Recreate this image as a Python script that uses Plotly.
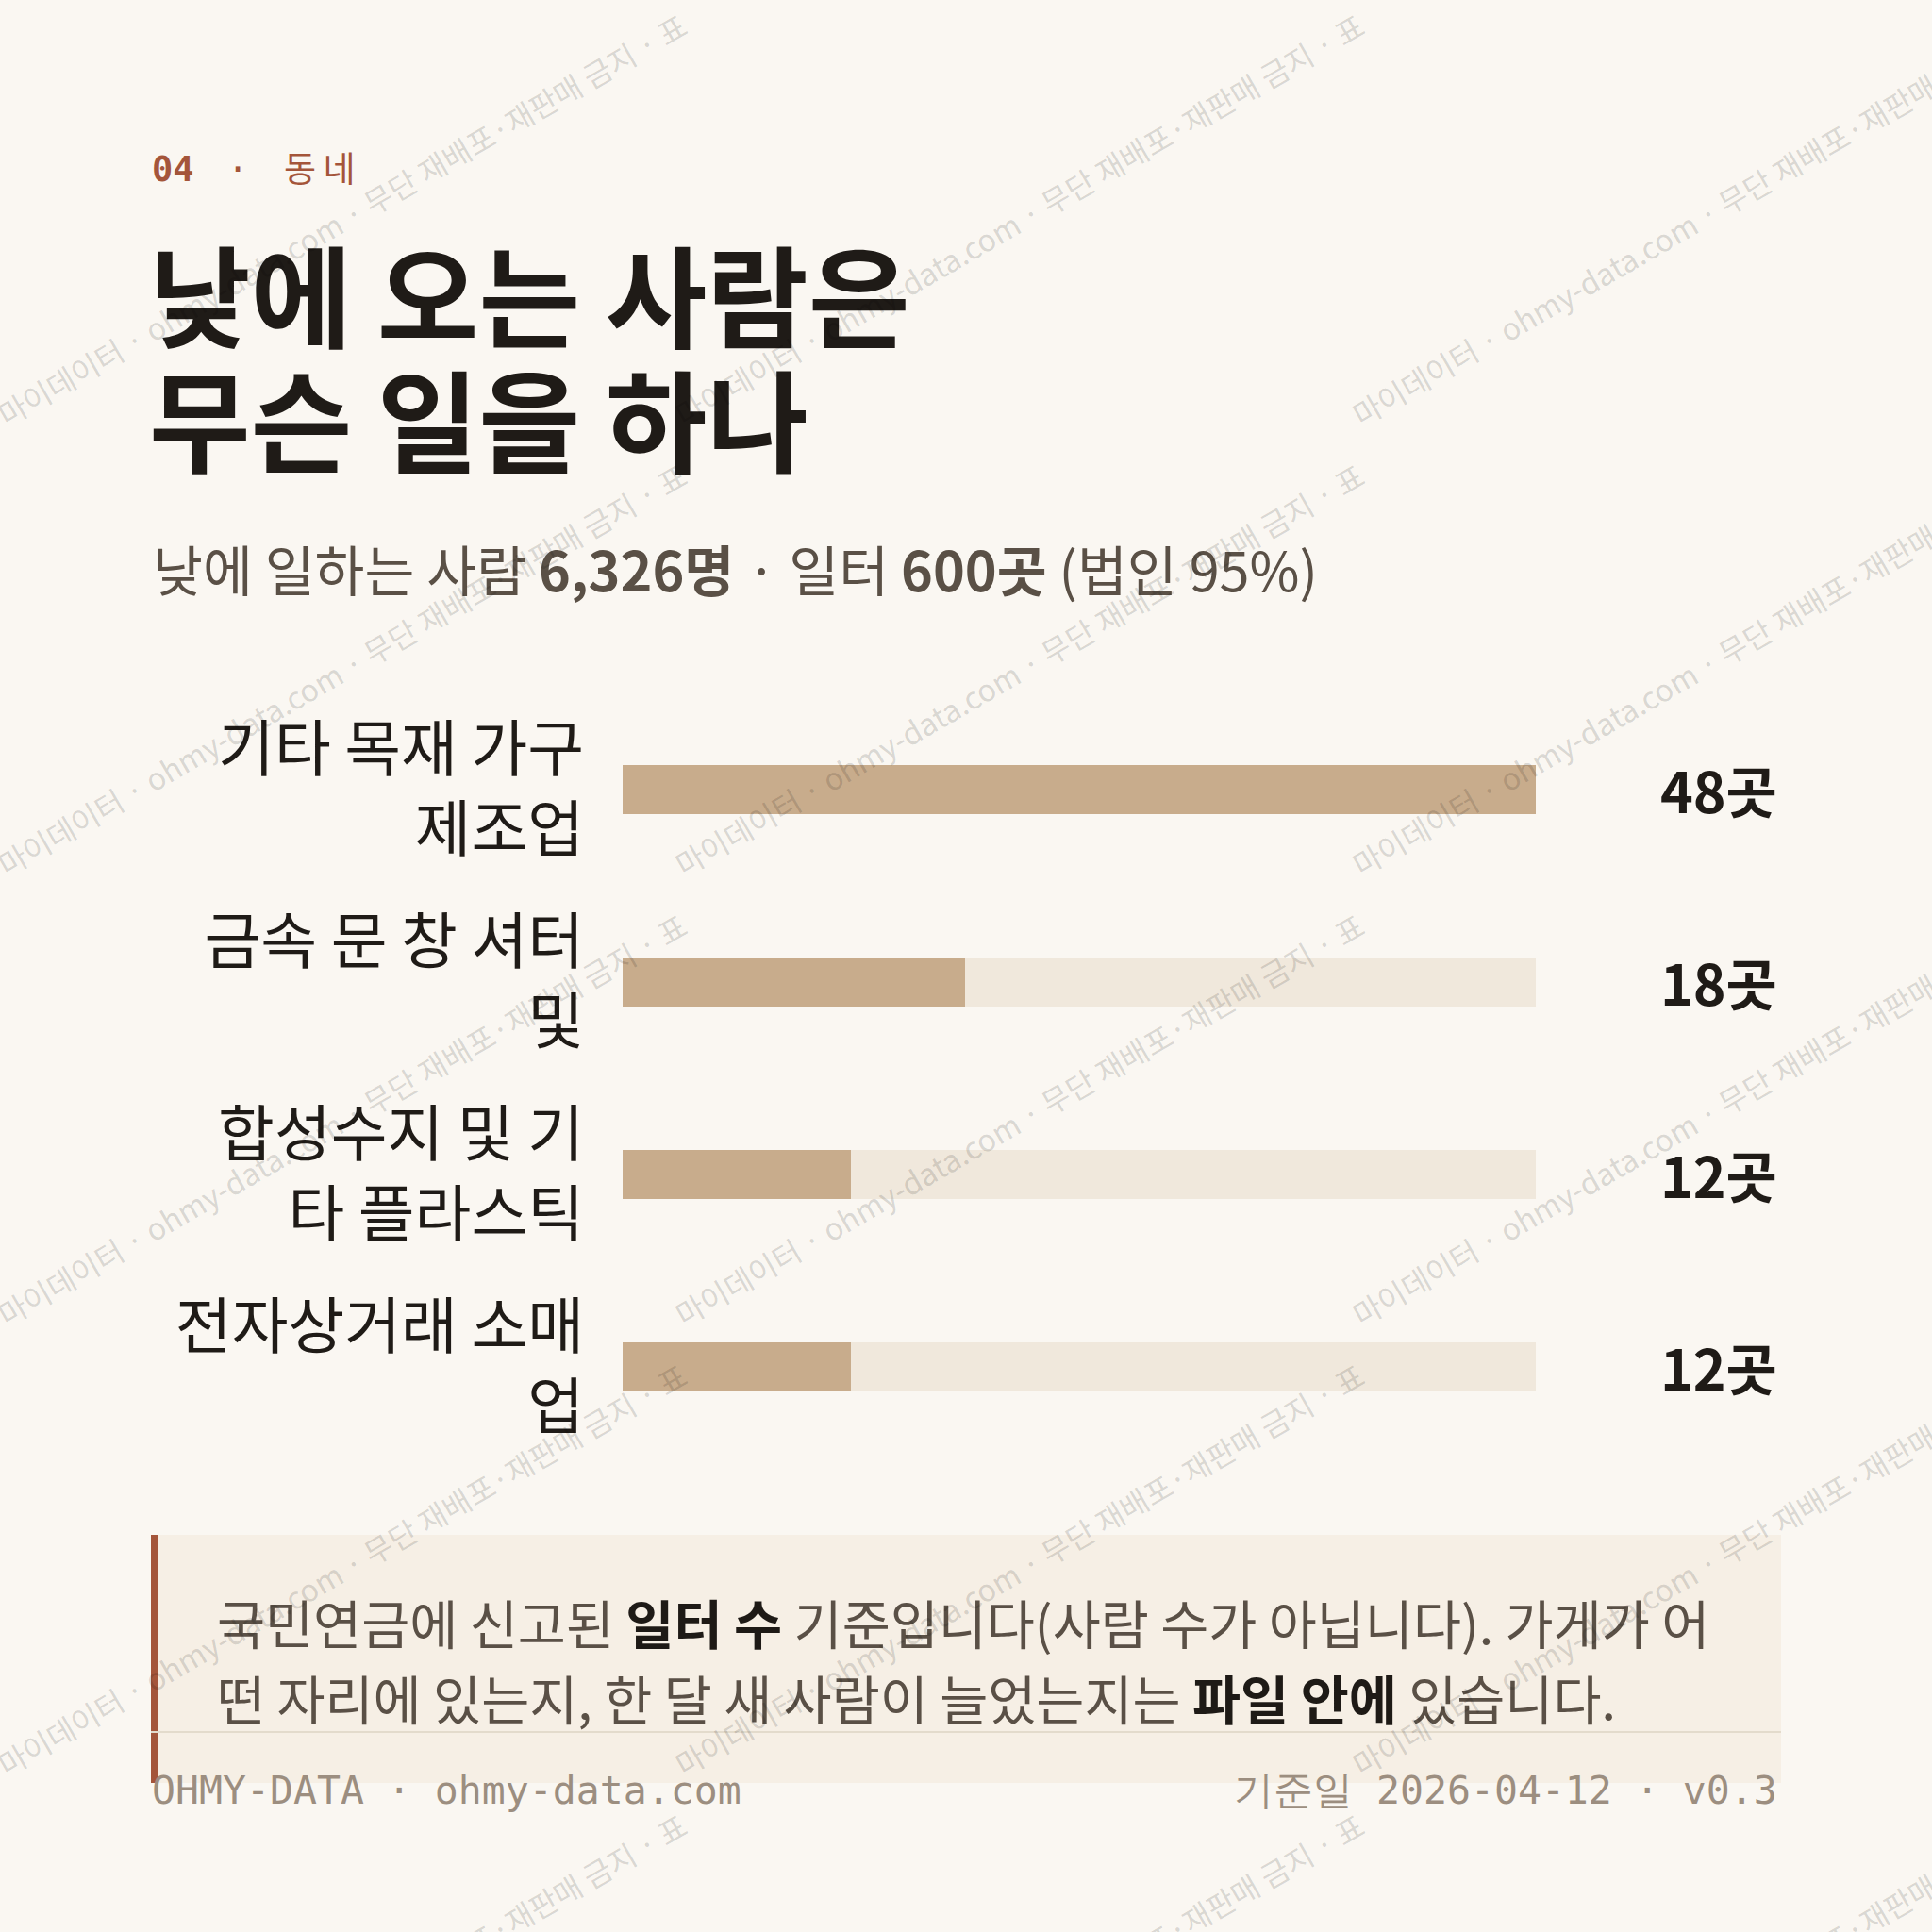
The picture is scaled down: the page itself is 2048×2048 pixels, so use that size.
import plotly.graph_objects as go

# ---------------- data ----------------
categories = ["기타 목재 가구 제조업", "금속 문 창 셔터 및", "합성수지 및 기타 플라스틱", "전자상거래 소매업"]
tick_labels = ["기타 목재 가구<br>제조업", "금속 문 창 셔터<br>및", "합성수지 및 기<br>타 플라스틱", "전자상거래 소매<br>업"]
counts = [48, 18, 12, 12]
unit = "곳"

eyebrow_num = "04"
eyebrow_sep = "·"
eyebrow_txt = "동\u2009네"
title_lines = ["낮에 오는 사람은", "무슨 일을 하나"]
subtitle = "낮에 일하는 사람 <b>6,326명</b> · 일터 <b>600곳</b> (법인 95%)"
note_lines = [
    "국민연금에 신고된 <b><span style='color:#1E1A16'>일터 수</span></b> 기준입니다(사람 수가 아닙니다). 가게가 어",
    "떤 자리에 있는지, 한 달 새 사람이 늘었는지는 <b><span style='color:#1E1A16'>파일 안에</span></b> 있습니다.",
]
footer_left = "OHMY-DATA · ohmy-data.com"
footer_right = "기준일 2026-04-12 · v0.3"
watermark = "마이데이터 · ohmy-data.com · 무단 재배포·재판매 금지 · 표"

# ---------------- style ----------------
W = H = 2048
BG = "#FAF7F2"
BAR = "#C8AC8C"
TRACK = "#F0E8DC"
INK = "#1F1B17"
SUB = "#5A5046"
ACCENT = "#A4553A"
KR = "Noto Sans CJK KR"
MONO = "DejaVu Sans Mono"


def X(px):
    return px / W


def Y(py):
    return 1 - py / H


track_max = max(counts)

fig = go.Figure()
fig.add_trace(go.Bar(
    y=categories, x=[track_max] * len(categories), orientation="h",
    marker=dict(color=TRACK, line=dict(width=0)), width=0.255,
    hoverinfo="skip", showlegend=False,
))
fig.add_trace(go.Bar(
    y=categories, x=counts, orientation="h",
    marker=dict(color=BAR, line=dict(width=0)), width=0.255,
    hoverinfo="skip", showlegend=False,
))

ann = []
# eyebrow
ann.append(dict(x=X(159), y=Y(179), xref="paper", yref="paper", xanchor="left", yanchor="middle",
                showarrow=False, text=f"<b>{eyebrow_num}</b>",
                font=dict(family=MONO, size=37, color=ACCENT)))
ann.append(dict(x=X(252), y=Y(179), xref="paper", yref="paper", xanchor="center", yanchor="middle",
                showarrow=False, text=eyebrow_sep,
                font=dict(family=MONO, size=37, color=ACCENT)))
ann.append(dict(x=X(299), y=Y(177), xref="paper", yref="paper", xanchor="left", yanchor="middle",
                showarrow=False, text=eyebrow_txt,
                font=dict(family=KR, size=37, color=ACCENT)))
# title
for i, line in enumerate(title_lines):
    ann.append(dict(x=X(156), y=Y(309 + 132 * i), xref="paper", yref="paper", xanchor="left",
                    yanchor="middle", showarrow=False, text=line,
                    font=dict(family=KR, size=117, color=INK, weight=700)))
# subtitle
ann.append(dict(x=X(160), y=Y(602), xref="paper", yref="paper", xanchor="left", yanchor="middle",
                showarrow=False, text=subtitle, font=dict(family=KR, size=57.5, color=SUB)))
# value labels
for c, v in zip(categories, counts):
    ann.append(dict(x=X(1886), y=c, xref="paper", yref="y", xanchor="right", yanchor="middle",
                    showarrow=False, text=f"{v}{unit}",
                    font=dict(family=KR, size=59, color=INK, weight=700)))
# note
for i, line in enumerate(note_lines):
    ann.append(dict(x=X(228), y=Y(1719 + 80 * i), xref="paper", yref="paper", xanchor="left",
                    yanchor="middle", showarrow=False, text=line,
                    font=dict(family=KR, size=55.5, color=SUB)))
# footer
ann.append(dict(x=X(159), y=Y(1897), xref="paper", yref="paper", xanchor="left", yanchor="middle",
                showarrow=False, text=footer_left, font=dict(family=MONO, size=41.5, color="#9C8E80")))
ann.append(dict(x=X(1886), y=Y(1897), xref="paper", yref="paper", xanchor="right", yanchor="middle",
                showarrow=False, text=footer_right, font=dict(family=MONO, size=41.5, color="#9C8E80")))
# watermark tiles
for k in range(-1, 5):
    for j in range(0, 3):
        ann.append(dict(x=X(362 + 718 * j), y=Y(232 + 477 * k), xref="paper", yref="paper",
                        xanchor="center", yanchor="middle", showarrow=False, textangle=-30,
                        text=watermark, font=dict(family=KR, size=32, color="rgba(0,0,0,0.15)")))

shapes = [
    dict(type="rect", xref="paper", yref="paper", x0=X(160), x1=X(1888), y0=Y(1627), y1=Y(1890),
         fillcolor="#F6EFE5", line=dict(width=0), layer="below"),
    dict(type="rect", xref="paper", yref="paper", x0=X(160), x1=X(167), y0=Y(1627), y1=Y(1890),
         fillcolor=ACCENT, line=dict(width=0), layer="below"),
    dict(type="line", xref="paper", yref="paper", x0=X(160), x1=X(1888), y0=Y(1836), y1=Y(1836),
         line=dict(color="#E3DBCC", width=2), layer="below"),
]

fig.update_layout(
    width=W, height=H, margin=dict(l=0, r=0, t=0, b=0),
    paper_bgcolor=BG, plot_bgcolor=BG,
    barmode="overlay", bargap=0,
    annotations=ann, shapes=shapes, showlegend=False,
    xaxis=dict(domain=[X(660), X(1628)], range=[0, track_max], visible=False, fixedrange=True),
    yaxis=dict(domain=[Y(1550.5), Y(734.6)], range=[3.5, -0.5], type="category",
               categoryorder="array", categoryarray=categories,
               tickvals=categories, ticktext=tick_labels, ticks="", showline=False,
               showgrid=False, zeroline=False, ticklabelstandoff=40,
               tickfont=dict(family=KR, size=65, color=INK)),
)

fig.write_html("out.html", config={"displayModeBar": False},
               post_script="document.body.style.margin='0';document.body.style.background='" + BG + "';")
